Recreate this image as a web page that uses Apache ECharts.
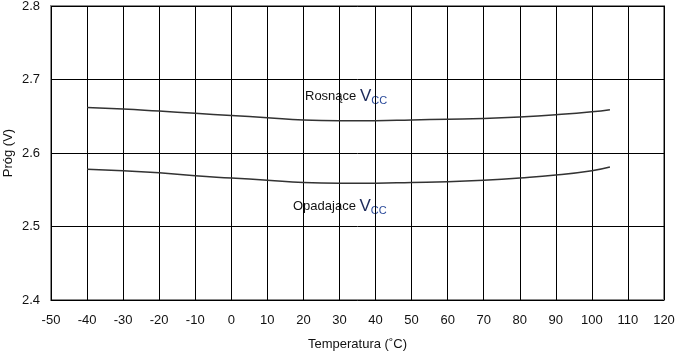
<!DOCTYPE html>
<html>
<head>
<meta charset="utf-8">
<script src="https://cdn.jsdelivr.net/npm/echarts@6/dist/echarts.min.js"></script>
<style>
  html, body { margin: 0; padding: 0; background: #fff; }
  #chart { width: 677px; height: 353px; }
</style>
</head>
<body>
<div id="chart"></div>
<script>
const temps = [-40, -30, -20, -10, 0, 10, 20, 30, 40, 50, 60, 70, 80, 90, 100, 105]
const rising = [2.662, 2.660, 2.657, 2.654, 2.651, 2.648, 2.645, 2.644, 2.644, 2.645, 2.646, 2.647, 2.649, 2.652, 2.656, 2.659]
const falling = [2.578, 2.576, 2.573, 2.569, 2.566, 2.563, 2.560, 2.559, 2.559, 2.560, 2.561, 2.563, 2.566, 2.570, 2.576, 2.581]

const myChart = echarts.init(document.getElementById('chart'))
const font = 'Liberation Sans, Arial, sans-serif'

const option = {
  animation: false,
  grid: {
    left: 51, right: 13, top: 6, bottom: 53,
    outerBoundsMode: 'none',
    containLabel: false,
    show: true, borderColor: '#8a8a8a', borderWidth: 2
  },
  xAxis: {
    type: 'value',
    min: -50, max: 120, interval: 10,
    name: 'Temperatura (˚C)',
    nameLocation: 'middle',
    nameGap: 38,
    nameMoveOverlap: false,
    nameTextStyle: { fontFamily: font, fontSize: 13, color: '#111' },
    axisLine: { show: false },
    axisTick: { show: false },
    axisLabel: { fontFamily: font, fontSize: 13, color: '#111', margin: 14 },
    splitLine: { show: true, lineStyle: { color: '#000', width: 1 } }
  },
  yAxis: {
    type: 'value',
    min: 2.4, max: 2.8, interval: 0.1,
    name: 'Próg (V)',
    nameLocation: 'middle',
    nameGap: 36,
    nameMoveOverlap: false,
    nameTextStyle: { fontFamily: font, fontSize: 13, color: '#111' },
    axisLine: { show: false },
    axisTick: { show: false },
    axisLabel: {
      fontFamily: font, fontSize: 13, color: '#111', margin: 11,
      formatter: v => v.toFixed(1)
    },
    splitLine: { show: true, lineStyle: { color: '#000', width: 1 } }
  },
  series: [
    {
      name: 'Rosnące',
      type: 'line',
      data: temps.map((t, i) => [t, rising[i]]),
      smooth: true,
      showSymbol: false,
      lineStyle: { color: '#333', width: 1.5 }
    },
    {
      name: 'Opadajace',
      type: 'line',
      data: temps.map((t, i) => [t, falling[i]]),
      smooth: true,
      showSymbol: false,
      lineStyle: { color: '#333', width: 1.5 }
    }
  ],
  graphic: [
    {
      type: 'text', left: 305, top: 88,
      style: {
        text: '{a|Rosnące }{v|V}{s|CC}',
        rich: {
          a: { fontFamily: font, fontSize: 13, fill: '#111' },
          v: { fontFamily: font, fontSize: 17, fill: '#1c2a5a' },
          s: { fontFamily: font, fontSize: 11, fill: '#2a4a9a', verticalAlign: 'bottom', padding: [8, 0, 0, 0] }
        }
      }
    },
    {
      type: 'text', left: 293, top: 198,
      style: {
        text: '{a|Opadajace }{v|V}{s|CC}',
        rich: {
          a: { fontFamily: font, fontSize: 13, fill: '#111' },
          v: { fontFamily: font, fontSize: 17, fill: '#1c2a5a' },
          s: { fontFamily: font, fontSize: 11, fill: '#2a4a9a', verticalAlign: 'bottom', padding: [8, 0, 0, 0] }
        }
      }
    }
  ]
}

myChart.setOption(option)
</script>
</body>
</html>
